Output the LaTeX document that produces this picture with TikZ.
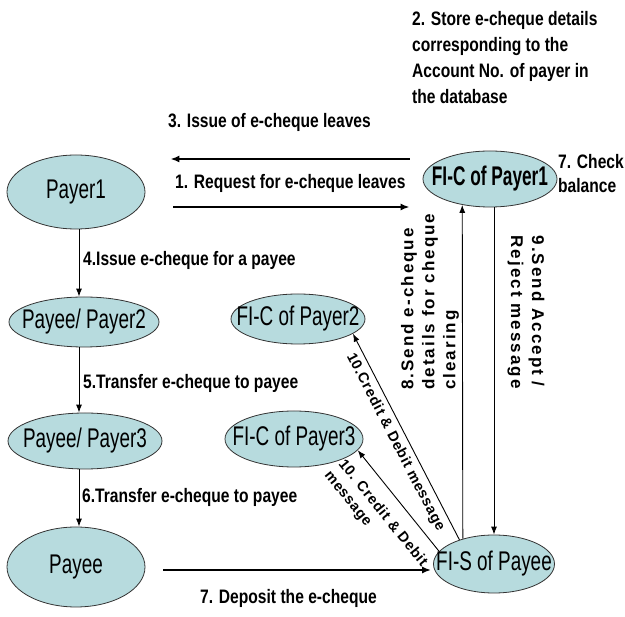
\documentclass[tikz,border=0pt]{standalone}
\usepackage{fontspec}
\setmainfont{Liberation Sans}
\newfontfamily\nodefont[FakeStretch=0.70]{Liberation Sans}
\newfontfamily\boldnodefont[FakeStretch=0.64]{Liberation Sans Bold}
\newfontfamily\labfont[FakeStretch=0.80]{Liberation Sans}
\newfontfamily\sidefont[LetterSpace=12]{Liberation Sans}
\newfontfamily\slantfont[LetterSpace=5]{Liberation Sans}
\usetikzlibrary{shapes.geometric,arrows.meta,positioning}
\definecolor{bubble}{RGB}{183,219,222}
\tikzset{
  party/.style={ellipse, draw=black!80, fill=bubble, line width=0.8pt, inner xsep=-15pt, inner ysep=-6pt,
    font=\nodefont\fontsize{27}{30}\selectfont},
  flow/.style={-{Latex[length=8pt,width=6pt]}, line width=0.9pt},
  bigflow/.style={-{Latex[length=9pt,width=7pt]}, line width=1.8pt},
  steptext/.style={font=\labfont\bfseries\fontsize{19.5}{26}\selectfont, inner sep=0pt},
  sidetext/.style={font=\sidefont\bfseries\fontsize{17}{21}\selectfont, align=left, inner sep=3pt},
  slanttext/.style={font=\slantfont\bfseries\fontsize{14.5}{18}\selectfont, align=left, inner sep=2pt},
}

\begin{document}
\begin{tikzpicture}[x=1pt,y=-1pt]
			%%%%% FRAME %%%%%
			\fill[white] (0,0) rectangle (625,617);
			\useasboundingbox (0,0) rectangle (625,617);
			
			%%%%% PARTIES %%%%%
			\node[party, minimum width=138pt, minimum height=74pt] (payerone) at (76,192) {Payer1};
			\node[party, minimum width=134pt, minimum height=56pt, font=\boldnodefont\fontsize{27}{30}\selectfont] (ficone) at (490,179) {FI-C of Payer1};
			\node[party, minimum width=150pt, minimum height=50pt] (payeetwo) at (84,322) {Payee/ Payer2};
			\node[party, minimum width=134pt, minimum height=50pt] (fictwo) at (298,319) {FI-C of Payer2};
			\node[party, minimum width=154pt, minimum height=56pt] (payeethree) at (85,441) {Payee/ Payer3};
			\node[party, minimum width=138pt, minimum height=56pt] (ficthree) at (294,439) {FI-C of Payer3};
			\node[party, minimum width=138pt, minimum height=80pt] (payee) at (76,567) {Payee};
			\node[party, minimum width=120pt, minimum height=58pt] (fis) at (494,564) {FI-S of Payee};
			
			%%%%% LEFT CHAIN %%%%%
			\coordinate (spine) at (79,0);
			\draw[flow] (spine |- payerone.south) -- (spine |- payeetwo.north);
			\draw[flow] (spine |- payeetwo.south) -- (spine |- payeethree.north);
			\draw[flow] (spine |- payeethree.south) -- (spine |- payee.north);
			
			%%%%% THICK ARROWS %%%%%
			\draw[bigflow, shorten <=28pt, shorten >=13pt] ([yshift=-15pt]payerone.east) -- ([yshift=-15pt]payerone.east -| ficone.west);
			\draw[bigflow, shorten <=13pt, shorten >=25pt] ([yshift=20pt]ficone.west) -- ([yshift=20pt]ficone.west -| payerone.east);
			\draw[bigflow, shorten <=18pt, shorten >=2pt] ([yshift=-3pt]payee.east) -- ([yshift=-3pt]payee.east -| fis.west);
			
			%%%%% CLEARING %%%%%
			\draw[flow] (fis.141) -- node[sidetext, rotate=90, anchor=south, pos=0.71] {8.Send e-cheque\\details for cheque\\clearing} (ficone.223.5);
			\draw[flow] (ficone.south -| fis.north) -- node[sidetext, xshift=10pt, rotate=-90, anchor=south, pos=0.32] {9.Send Accept /\\Reject message} (fis.north);
			\draw[flow] (fis.145) -- node[slanttext, sloped, below=3pt, pos=0.5] {10.Credit \& Debit message} (fictwo.-15);
			\draw[flow] (fis.167) -- node[slanttext, sloped, below=11pt, pos=0.5] {10. Credit \& Debit\\message} (ficthree.-10);
			
			%%%%% STEP LABELS %%%%%
			\node[steptext, anchor=north west, align=left] (lbtwo) at (412,11) {2. Store e-cheque details\\corresponding to the\\Account No. of payer in\\the database};
			\node[steptext, anchor=west] (lbthree) at (168,122) {3. Issue of e-cheque leaves};
			\node[steptext, anchor=west] (lbone) at (175,183) {1. Request for e-cheque leaves};
			\node[steptext, anchor=west, align=left, font=\labfont\bfseries\fontsize{19.5}{24}\selectfont] (lbcheck) at (558,174) {7. Check\\balance};
			\node[steptext, anchor=west] (lbfour) at (83,260) {4.Issue e-cheque for a payee};
			\node[steptext, anchor=west] (lbfive) at (83,383) {5.Transfer e-cheque to payee};
			\node[steptext, anchor=west] (lbsix) at (82,497) {6.Transfer e-cheque to payee};
			\node[steptext, anchor=west] (lbseven) at (200,598) {7. Deposit the e-cheque};
\end{tikzpicture}
\end{document}
